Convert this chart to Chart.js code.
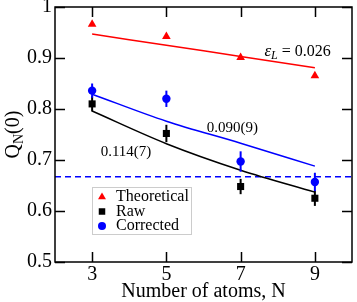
<!DOCTYPE html>
<html>
<head>
<meta charset="utf-8">
<script src="https://cdn.jsdelivr.net/npm/chart.js@4"></script>
<style>
html, body { margin: 0; padding: 0; background: #fff; }
</style>
</head>
<body>
<canvas id="qn_chart" width="357" height="302"></canvas>
<script>
var atoms = [3, 5, 7, 9];
var theoretical = [0.966, 0.942, 0.901, 0.865];
var raw = [0.810, 0.752, 0.648, 0.625];
var rawErr = [0.015, 0.017, 0.015, 0.015];
var corrected = [0.836, 0.820, 0.697, 0.657];
var correctedErr = [0.014, 0.016, 0.020, 0.018];
var theoryFit = [0.947, 0.925, 0.903, 0.881];
var rawFit = [0.796, 0.732, 0.680, 0.637];
var correctedFit = [0.829, 0.776, 0.733, 0.688];
var threshold = 0.667;
var xTicks = [3, 5, 7, 9];
var yTicks = [0.5, 0.6, 0.7, 0.8, 0.9, 1];

var SERIF = "'Liberation Serif', 'Times New Roman', serif";

function pts(xs, ys) {
    return xs.map(function (x, i) { return { x: x, y: ys[i] }; });
}

// frame, inward ticks, error bars, labels and legend
var decorPlugin = {
    id: 'decor',
    afterDatasetsDraw: function (chart) {
        var ctx = chart.ctx;
        var a = chart.chartArea;
        var xs = chart.scales.x, ys = chart.scales.y;
        var ds = chart.data.datasets;

        // error bars
        ctx.save();
        ctx.lineWidth = 2;
        [[raw, rawErr, '#000000'], [corrected, correctedErr, '#0000ff']].forEach(function (s) {
            ctx.strokeStyle = s[2];
            atoms.forEach(function (n, i) {
                var px = xs.getPixelForValue(n);
                ctx.beginPath();
                ctx.moveTo(px, ys.getPixelForValue(s[0][i] - s[1][i]));
                ctx.lineTo(px, ys.getPixelForValue(s[0][i] + s[1][i]));
                ctx.stroke();
            });
        });
        ctx.restore();

        // frame and ticks
        ctx.save();
        ctx.strokeStyle = '#000';
        ctx.lineWidth = 1.5;
        ctx.strokeRect(a.left, a.top, a.right - a.left, a.bottom - a.top);
        var tl = 10;
        ctx.beginPath();
        xTicks.forEach(function (v) {
            var px = Math.round(xs.getPixelForValue(v)) + 0.5;
            ctx.moveTo(px, a.bottom); ctx.lineTo(px, a.bottom - tl);
            ctx.moveTo(px, a.top); ctx.lineTo(px, a.top + tl);
        });
        yTicks.forEach(function (v) {
            var py = Math.round(ys.getPixelForValue(v)) + 0.5;
            ctx.moveTo(a.left, py); ctx.lineTo(a.left + tl, py);
            ctx.moveTo(a.right, py); ctx.lineTo(a.right - tl, py);
        });
        ctx.stroke();
        ctx.restore();

        // y title Q_N(0)
        ctx.save();
        ctx.fillStyle = '#000';
        ctx.translate(14, (a.top + a.bottom) / 2);
        ctx.rotate(-Math.PI / 2);
        ctx.textBaseline = 'middle';
        ctx.font = '20px ' + SERIF;
        var wQ = ctx.measureText('Q').width;
        ctx.font = '14px ' + SERIF;
        var wN = ctx.measureText('N').width;
        ctx.font = '20px ' + SERIF;
        var w0 = ctx.measureText('(0)').width;
        var x0 = -(wQ + wN + w0) / 2;
        ctx.fillText('Q', x0, 0);
        ctx.font = '14px ' + SERIF;
        ctx.fillText('N', x0 + wQ, 5);
        ctx.font = '20px ' + SERIF;
        ctx.fillText('(0)', x0 + wQ + wN, 0);
        ctx.restore();

        // fit labels
        ctx.save();
        ctx.fillStyle = '#000';
        ctx.textBaseline = 'middle';
        ctx.font = '15px ' + SERIF;
        ctx.fillText('0.114(7)', xs.getPixelForValue(3.23), ys.getPixelForValue(0.716));
        ctx.fillText('0.090(9)', xs.getPixelForValue(6.09), ys.getPixelForValue(0.762));
        var ex = xs.getPixelForValue(7.64), ey = ys.getPixelForValue(0.912);
        ctx.font = 'italic 17px ' + SERIF;
        ctx.fillText('\u03b5', ex, ey);
        var we = ctx.measureText('\u03b5').width;
        ctx.font = 'italic 12px ' + SERIF;
        ctx.fillText('L', ex + we, ey + 4);
        var wl = ctx.measureText('L').width;
        ctx.font = '16px ' + SERIF;
        ctx.fillText(' = 0.026', ex + we + wl, ey);
        ctx.restore();

        // legend
        ctx.save();
        var bx = a.left + 37, by = a.top + 180, bw = 99, bh = 47;
        ctx.fillStyle = '#fff';
        ctx.fillRect(bx, by, bw, bh);
        ctx.strokeStyle = '#cccccc';
        ctx.lineWidth = 1;
        ctx.strokeRect(bx + 0.5, by + 0.5, bw, bh);
        ds.filter(function (d) { return d.inLegend; }).forEach(function (d, i) {
            var ly = by + 10 + i * 14.5;
            ctx.fillStyle = d.backgroundColor;
            ctx.strokeStyle = d.borderColor;
            Chart.helpers.drawPoint(ctx, {
                pointStyle: d.pointStyle,
                radius: d.pointStyle === 'circle' ? 4 : 4.6,
                borderWidth: 0,
                rotation: 0
            }, bx + 10, ly);
            ctx.fillStyle = '#000';
            ctx.font = '16px ' + SERIF;
            ctx.textBaseline = 'middle';
            ctx.textAlign = 'left';
            ctx.fillText(d.label, bx + 24, ly);
        });
        ctx.restore();
    }
};

var ctx = document.getElementById('qn_chart').getContext('2d');
var qnChart = new Chart(ctx, {
    type: 'scatter',
    data: {
        datasets: [
            {
                label: 'Theoretical',
                inLegend: true,
                data: pts(atoms, theoretical),
                pointStyle: 'triangle',
                pointRadius: 5,
                backgroundColor: '#ff0000',
                borderColor: '#ff0000',
                borderWidth: 0
            },
            {
                label: 'Raw',
                inLegend: true,
                data: pts(atoms, raw),
                pointStyle: 'rect',
                pointRadius: 5,
                backgroundColor: '#000000',
                borderColor: '#000000',
                borderWidth: 0
            },
            {
                label: 'Corrected',
                inLegend: true,
                data: pts(atoms, corrected),
                pointStyle: 'circle',
                pointRadius: 4.2,
                backgroundColor: '#0000ff',
                borderColor: '#0000ff',
                borderWidth: 0
            },
            {
                label: 'Theory fit',
                data: pts(atoms, theoryFit),
                showLine: true,
                pointRadius: 0,
                borderColor: '#ff0000',
                borderWidth: 1.5,
                cubicInterpolationMode: 'monotone'
            },
            {
                label: 'Raw fit',
                data: pts(atoms, rawFit),
                showLine: true,
                pointRadius: 0,
                borderColor: '#000000',
                borderWidth: 1.5,
                cubicInterpolationMode: 'monotone'
            },
            {
                label: 'Corrected fit',
                data: pts(atoms, correctedFit),
                showLine: true,
                pointRadius: 0,
                borderColor: '#0000ff',
                borderWidth: 1.5,
                cubicInterpolationMode: 'monotone'
            },
            {
                label: 'Threshold',
                data: [{ x: 2, y: threshold }, { x: 10, y: threshold }],
                showLine: true,
                pointRadius: 0,
                borderColor: '#0000ff',
                borderWidth: 1.5,
                borderDash: [6, 4]
            }
        ]
    },
    options: {
        responsive: false,
        animation: false,
        devicePixelRatio: 1,
        layout: { padding: { top: 7, right: 2, left: 0, bottom: 0 } },
        plugins: {
            legend: { display: false },
            tooltip: { enabled: false }
        },
        scales: {
            x: {
                type: 'linear',
                min: 2,
                max: 10,
                afterBuildTicks: function (scale) {
                    scale.ticks = xTicks.map(function (v) { return { value: v }; });
                },
                afterFit: function (scale) {
                    scale.height = 40;
                    scale.paddingLeft = 0;
                    scale.paddingRight = 0;
                },
                grid: { display: false, drawTicks: false },
                border: { display: false },
                ticks: {
                    padding: 3,
                    color: '#000',
                    font: { family: SERIF, size: 20, lineHeight: 1 },
                    maxRotation: 0
                },
                title: {
                    display: true,
                    text: 'Number of atoms, N',
                    color: '#000',
                    font: { family: SERIF, size: 20, lineHeight: 1 },
                    padding: { top: 0, bottom: 0 }
                }
            },
            y: {
                min: 0.5,
                max: 1,
                afterBuildTicks: function (scale) {
                    scale.ticks = yTicks.map(function (v) { return { value: v }; });
                },
                afterFit: function (scale) {
                    scale.width = 55;
                    scale.paddingTop = 0;
                    scale.paddingBottom = 0;
                },
                grid: { display: false, drawTicks: false },
                border: { display: false },
                ticks: {
                    padding: 3,
                    color: '#000',
                    font: { family: SERIF, size: 20, lineHeight: 1 },
                    callback: function (v) { return v === 1 ? '1' : v.toFixed(1); }
                }
            }
        }
    },
    plugins: [decorPlugin]
});
</script>
</body>
</html>
